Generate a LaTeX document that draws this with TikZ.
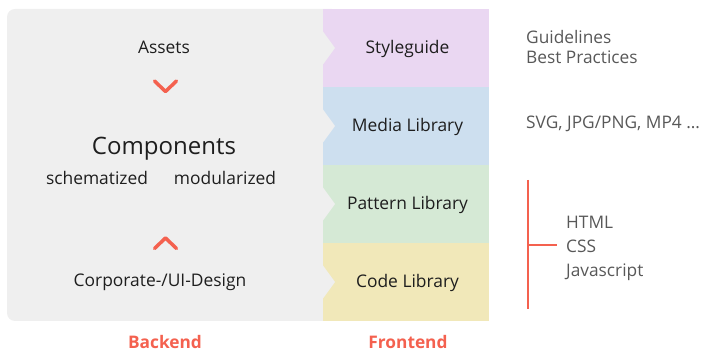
\documentclass[tikz,border=0pt]{standalone}
\usepackage{fontspec}
\setmainfont{Open Sans}
\usepackage{xcolor}
\usepackage{tikz}

\definecolor{backgray}{HTML}{EFEFEF}
\definecolor{stylepurple}{HTML}{EAD7F2}
\definecolor{mediablue}{HTML}{CDDFEF}
\definecolor{patterngreen}{HTML}{D5E9D5}
\definecolor{codeyellow}{HTML}{F1E8B9}
\definecolor{accent}{HTML}{F4614F}
\definecolor{darktext}{HTML}{1E1E1E}
\definecolor{greytext}{HTML}{585858}

\begin{document}
\begin{tikzpicture}[x=1pt, y=-1pt,
    strip/.style={rectangle, minimum width=166pt, minimum height=78pt, inner sep=0pt, outer sep=0pt,
      text height=11pt, text depth=0pt, font=\fontsize{17.4}{20}\selectfont, text=darktext},
    label/.style={anchor=base, font=\fontsize{17.4}{20}\selectfont, text=darktext},
    note/.style={anchor=base west, inner sep=0pt, font=\fontsize{17.3}{20}\selectfont, text=greytext},
    side/.style={anchor=base, inner sep=0pt, font=\fontsize{17.3}{20}\selectfont\bfseries, text=accent},
    chevron/.style={draw=accent, line width=3.5pt, line cap=round, line join=round}]
    \useasboundingbox (0,0) rectangle (702,352);

    \fill[backgray, rounded corners=8pt] (7,9) rectangle (340,321);

    \node (sg) at (406, 48) [strip, fill=stylepurple] {\hspace{3pt}Styleguide};
    \node (ml) at (406, 126) [strip, fill=mediablue] {\hspace{3pt}Media Library};
    \node (pl) at (406, 204) [strip, fill=patterngreen] {\hspace{3pt}Pattern Library};
    \node (cl) at (406, 282) [strip, fill=codeyellow] {\hspace{3pt}Code Library};

    \foreach \s in {sg, ml, pl, cl}
        \fill[backgray] (\s.west) ++(0,-16.5) -- ++(12,16.5) -- ++(-12,16.5) -- cycle;

    \node (assets) at (164, 54) [label] {Assets};
    \node (comp) at (164, 155) [label, font=\fontsize{24}{28}\selectfont] {Components};
    \node (schem) at (97, 185) [label] {schematized};
    \node (modul) at (225, 185) [label] {modularized};
    \node (design) at (160, 287) [label] {Corporate-/UI-Design};

    \draw[chevron] (154.5, 81) -- (165.5, 91.5) -- (176.5, 81);
    \draw[chevron] (154.5, 248.5) -- (165.5, 238) -- (176.5, 248.5);

    \node (guide) at (526, 44) [note] {Guidelines};
    \node (best) at (526, 63.5) [note] {Best Practices};
    \node (formats) at (526, 128.5) [note] {SVG, JPG/PNG, MP4 \dots};
    \node (html) at (566, 228.5) [note] {HTML};
    \node (css) at (566, 252.5) [note] {CSS};
    \node (js) at (566, 276.5) [note] {Javascript};

    \draw[accent, line width=2.5pt] (528, 180) -- (528, 309);
    \draw[accent, line width=2.5pt] (528, 245) -- (557, 245);

    \node (back) at (165, 349) [side] {Backend};
    \node (front) at (408, 349) [side] {Frontend};
\end{tikzpicture}
\end{document}
